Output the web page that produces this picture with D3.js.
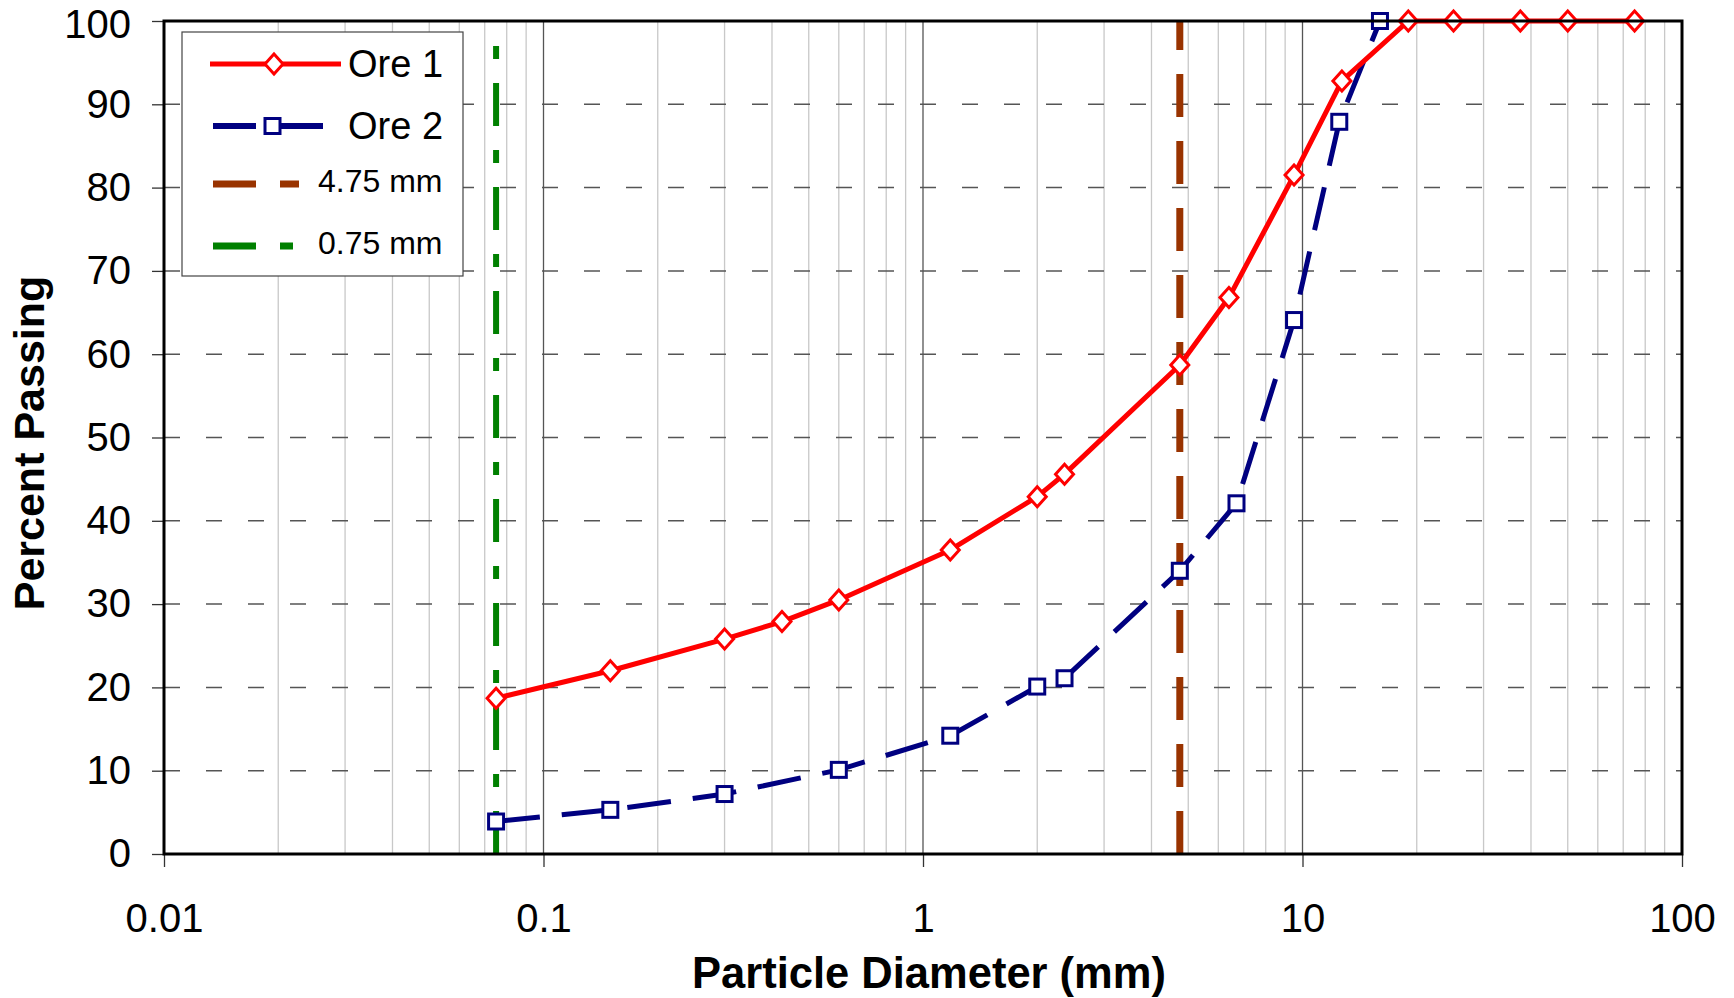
<!DOCTYPE html>
<html>
<head>
<meta charset="UTF-8">
<title>Particle size distribution</title>
<script src="https://d3js.org/d3.v7.min.js"></script>
<style>
  body { margin: 0; background: #fff; }
  svg { font-family: "Liberation Sans", Arial, sans-serif; }
  .tick text { font-size: 40px; fill: #000; }
  .grid-minor line { stroke: #c8c8c8; stroke-width: 1.3; }
  .grid-major line { stroke: #555; stroke-width: 1.3; }
  .grid-h line { stroke: #555; stroke-width: 1.5; stroke-dasharray: 16,26; }
</style>
</head>
<body>
<script>

// sieve sizes (mm) and percent passing
var ore1Size = [0.075, 0.15, 0.3, 0.425, 0.6, 1.18, 2, 2.36, 4.75, 6.4, 9.5, 12.7, 19, 25, 37.5, 50, 75];
var ore1Pass = [18.7, 22.0, 25.8, 27.9, 30.5, 36.5, 42.9, 45.6, 58.7, 66.8, 81.5, 92.8, 100, 100, 100, 100, 100];

var ore2Size = [0.075, 0.15, 0.3, 0.6, 1.18, 2, 2.36, 4.75, 6.7, 9.5, 12.5, 16];
var ore2Pass = [3.9, 5.3, 7.2, 10.1, 14.2, 20.1, 21.1, 34.0, 42.1, 64.1, 87.9, 100];

var refSize = [4.75, 0.075];
var refLabel = ["4.75 mm", "0.75 mm"];

var xTicks = [0.01, 0.1, 1, 10, 100];
var xTickLabels = ["0.01", "0.1", "1", "10", "100"];
var yTicks = [0, 10, 20, 30, 40, 50, 60, 70, 80, 90, 100];

var margin = {top: 21, right: 52, bottom: 144, left: 164},
    width = 1734 - margin.left - margin.right,
    height = 998 - margin.top - margin.bottom;

var x = d3.scaleLog().domain([0.01, 100]).range([0, width]);
var y = d3.scaleLinear().domain([0, 100]).range([height, 0]);

var svg = d3.select("body").append("svg")
    .attr("width", 1734)
    .attr("height", 998);

var g = svg.append("g")
    .attr("transform", "translate(" + margin.left + "," + margin.top + ")");

// vertical grid: light lines for 2..9, darker for the decades
var minor = x.ticks().filter(function (d) {
    return Math.abs(Math.log10(d) - Math.round(Math.log10(d))) > 1e-6;
});
g.append("g").attr("class", "grid-minor")
    .selectAll("line").data(minor).enter().append("line")
    .attr("x1", function (d) { return x(d); })
    .attr("x2", function (d) { return x(d); })
    .attr("y1", 0).attr("y2", height);

g.append("g").attr("class", "grid-major")
    .selectAll("line").data(xTicks.slice(1, -1)).enter().append("line")
    .attr("x1", function (d) { return x(d); })
    .attr("x2", function (d) { return x(d); })
    .attr("y1", 0).attr("y2", height);

g.append("g").attr("class", "grid-h")
    .selectAll("line").data(yTicks.slice(1, -1)).enter().append("line")
    .attr("x1", 0).attr("x2", width)
    .attr("y1", function (d) { return y(d); })
    .attr("y2", function (d) { return y(d); });

// reference size lines, dashed from the bottom up
var refColor = ["#993300", "#008000"];
var refDash = ["43,24", "43,24,13,24"];
var refWidth = [7, 6];

g.selectAll(".ref").data(refSize).enter().append("line")
    .attr("class", "ref")
    .attr("x1", function (d) { return x(d); })
    .attr("x2", function (d) { return x(d); })
    .attr("y1", y(0)).attr("y2", y(100))
    .attr("stroke", function (d, i) { return refColor[i]; })
    .attr("stroke-width", function (d, i) { return refWidth[i]; })
    .attr("stroke-dasharray", function (d, i) { return refDash[i]; });

// series
var line = d3.line()
    .x(function (d) { return x(d[0]); })
    .y(function (d) { return y(d[1]); });

var ore1 = d3.zip(ore1Size, ore1Pass);
var ore2 = d3.zip(ore2Size, ore2Pass);

g.append("path").datum(ore2)
    .attr("d", line)
    .attr("fill", "none")
    .attr("stroke", "#000080")
    .attr("stroke-width", 5)
    .attr("stroke-dasharray", "44,22");

g.append("path").datum(ore1)
    .attr("d", line)
    .attr("fill", "none")
    .attr("stroke", "#ff0000")
    .attr("stroke-width", 5)
    .attr("stroke-linejoin", "round");

function diamond(cx, cy) {
    return "M" + cx + "," + (cy - 10) + "L" + (cx + 9) + "," + cy +
        "L" + cx + "," + (cy + 10) + "L" + (cx - 9) + "," + cy + "Z";
}

g.selectAll(".m2").data(ore2).enter().append("rect")
    .attr("class", "m2")
    .attr("x", function (d) { return x(d[0]) - 7.5; })
    .attr("y", function (d) { return y(d[1]) - 7.5; })
    .attr("width", 15).attr("height", 15)
    .attr("fill", "#fff")
    .attr("stroke", "#000080")
    .attr("stroke-width", 3);

g.selectAll(".m1").data(ore1).enter().append("path")
    .attr("class", "m1")
    .attr("d", function (d) { return diamond(x(d[0]), y(d[1])); })
    .attr("fill", "#fff")
    .attr("stroke", "#ff0000")
    .attr("stroke-width", 3);

// axes
var xAxis = d3.axisBottom(x)
    .tickValues(xTicks)
    .tickFormat(function (d, i) { return xTickLabels[i]; })
    .tickSize(13)
    .tickSizeOuter(0);

var gx = g.append("g")
    .attr("transform", "translate(0," + height + ")")
    .call(xAxis);
gx.select(".domain").remove();
gx.selectAll(".tick line").attr("stroke", "#333").attr("stroke-width", 1.3);
gx.selectAll(".tick text").attr("y", 78).attr("dy", null);

var yAxis = d3.axisLeft(y)
    .tickValues(yTicks)
    .tickSize(12)
    .tickPadding(21)
    .tickSizeOuter(0);

var gy = g.append("g").call(yAxis);
gy.select(".domain").remove();
gy.selectAll(".tick line").attr("stroke", "#333").attr("stroke-width", 1.3);
// keep the top label inside the page
gy.selectAll(".tick text").filter(function (d) { return d === 100; }).attr("dy", "0.4em");

// plot frame
g.append("rect")
    .attr("x", 0).attr("y", 0)
    .attr("width", width).attr("height", height)
    .attr("fill", "none")
    .attr("stroke", "#000")
    .attr("stroke-width", 3);

// axis titles
svg.append("text")
    .attr("x", margin.left + width / 2 + 6)
    .attr("y", 988)
    .attr("text-anchor", "middle")
    .attr("font-size", 43.5)
    .attr("font-weight", "bold")
    .text("Particle Diameter (mm)");

svg.append("text")
    .attr("transform", "translate(44,443) rotate(-90)")
    .attr("text-anchor", "middle")
    .attr("font-size", 43)
    .attr("font-weight", "bold")
    .text("Percent Passing");

// legend
var leg = svg.append("g");
leg.append("rect")
    .attr("x", 182).attr("y", 32)
    .attr("width", 281).attr("height", 244)
    .attr("fill", "#fff")
    .attr("stroke", "#444")
    .attr("stroke-width", 1.2);

var legY = [64, 126, 184, 246];

leg.append("line")
    .attr("x1", 210).attr("x2", 341).attr("y1", legY[0]).attr("y2", legY[0])
    .attr("stroke", "#ff0000").attr("stroke-width", 5);
leg.append("path")
    .attr("d", diamond(274, legY[0]))
    .attr("fill", "#fff").attr("stroke", "#ff0000").attr("stroke-width", 3);
leg.append("text").attr("x", 348).attr("y", 77)
    .attr("font-size", 38).text("Ore 1");

leg.append("line")
    .attr("x1", 213).attr("x2", 323).attr("y1", legY[1]).attr("y2", legY[1])
    .attr("stroke", "#000080").attr("stroke-width", 6)
    .attr("stroke-dasharray", "43,24");
leg.append("rect")
    .attr("x", 265).attr("y", legY[1] - 7.5).attr("width", 15).attr("height", 15)
    .attr("fill", "#fff").attr("stroke", "#000080").attr("stroke-width", 3);
leg.append("text").attr("x", 348).attr("y", 139)
    .attr("font-size", 38).text("Ore 2");

var legEnd = [299, 293];
refLabel.forEach(function (lab, i) {
    leg.append("line")
        .attr("x1", 213).attr("x2", legEnd[i])
        .attr("y1", legY[i + 2]).attr("y2", legY[i + 2])
        .attr("stroke", refColor[i]).attr("stroke-width", 7)
        .attr("stroke-dasharray", "43,24");
    leg.append("text").attr("x", 318).attr("y", legY[i + 2] + 8)
        .attr("font-size", 32).text(lab);
});

</script>
</body>
</html>
